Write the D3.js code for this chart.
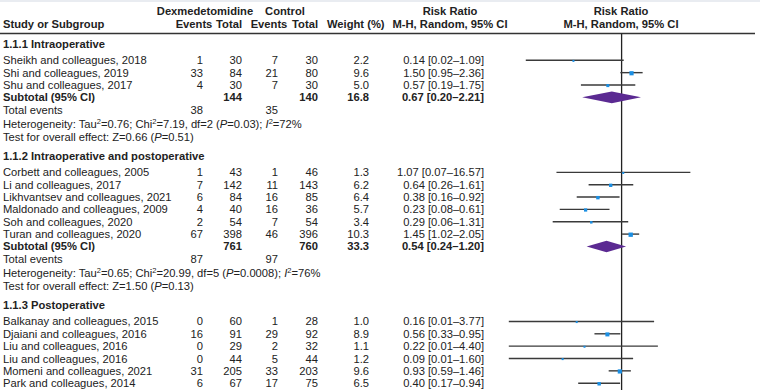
<!DOCTYPE html>
<html>
<head>
<meta charset="utf-8">
<style>
  body { margin: 0; background: #fff; }
  svg text { font-family: "Liberation Sans", Arial, sans-serif; font-size: 11.2px; fill: #222; }
  .b { font-weight: bold; }
</style>
<script src="https://cdn.jsdelivr.net/npm/d3@7"></script>
</head>
<body>
<script>
// ---- data ----
var groups = ["1.1.1 Intraoperative", "1.1.2 Intraoperative and postoperative", "1.1.3 Postoperative"];
var studies = ["Sheikh and colleagues, 2018", "Shi and colleagues, 2019", "Shu and colleagues, 2017",
  "Corbett and colleagues, 2005", "Li and colleagues, 2017", "Likhvantsev and colleagues, 2021",
  "Maldonado and colleagues, 2009", "Soh and colleagues, 2020", "Turan and colleagues, 2020",
  "Balkanay and colleagues, 2015", "Djaiani and colleagues, 2016", "Liu and colleagues, 2016",
  "Liu and colleagues, 2016", "Momeni and colleagues, 2021", "Park and colleagues, 2014",
  "Shehabi and colleagues, 2009"];
var studyGroup = [0, 0, 0, 1, 1, 1, 1, 1, 1, 2, 2, 2, 2, 2, 2, 2];
var dexEvents = [1, 33, 4, 1, 7, 6, 4, 2, 67, 0, 16, 0, 0, 31, 6, 13];
var dexTotal  = [30, 84, 30, 43, 142, 84, 40, 54, 398, 60, 91, 29, 44, 205, 67, 152];
var ctlEvents = [7, 21, 7, 1, 11, 16, 16, 7, 46, 1, 29, 2, 5, 33, 17, 22];
var ctlTotal  = [30, 80, 30, 46, 143, 85, 36, 54, 396, 28, 92, 32, 44, 203, 75, 147];
var weight    = [2.2, 9.6, 5.0, 1.3, 6.2, 6.4, 5.7, 3.4, 10.3, 1.0, 8.9, 1.1, 1.2, 9.6, 6.5, 7.5];
var rr        = [0.14, 1.50, 0.57, 1.07, 0.64, 0.38, 0.23, 0.29, 1.45, 0.16, 0.56, 0.22, 0.09, 0.93, 0.40, 0.57];
var rrLo      = [0.02, 0.95, 0.19, 0.07, 0.26, 0.16, 0.08, 0.06, 1.02, 0.01, 0.33, 0.01, 0.01, 0.59, 0.17, 0.30];
var rrHi      = [1.09, 2.36, 1.75, 16.57, 1.61, 0.92, 0.61, 1.31, 2.05, 3.77, 0.95, 4.40, 1.60, 1.46, 0.94, 1.09];

// subtotals (groups 1 and 2 only are visible)
var subDexTotal = [144, 761];
var subCtlTotal = [140, 760];
var subWeight   = [16.8, 33.3];
var subRR       = [0.67, 0.54];
var subLo       = [0.20, 0.24];
var subHi       = [2.21, 1.20];
var subDexEv    = [38, 87];
var subCtlEv    = [35, 97];
var hetTau = ["0.76", "0.65"];
var hetChi = ["7.19", "20.99"];
var hetDf  = [2, 5];
var hetP   = ["0.03", "0.0008"];
var hetI2  = [72, 76];
var testZ  = ["0.66", "1.50"];
var testP  = ["0.51", "0.13"];

// ---- layout ----
var W = 760, H = 390;
var svg = d3.select("body").append("svg").attr("width", W).attr("height", H);

svg.append("rect").attr("x", 0).attr("y", 0).attr("width", W).attr("height", 2).attr("fill", "#e9ecf1");

var x = d3.scaleLog().domain([0.01, 100]).range([508.8, 734.4]);
var f2 = d3.format(".2f"), f1 = d3.format(".1f");

var col = {name: 3, dexE: 203, dexT: 242, ctlE: 278, ctlT: 318, w: 369, rr: 484};

// build row list
var rows = [];
var y = 44.3;
groups.forEach(function(g, gi) {
  rows.push({type: "group", y: y, g: gi});
  y += 16;
  studies.forEach(function(s, i) {
    if (studyGroup[i] !== gi) return;
    rows.push({type: "study", y: y, i: i});
    y += 12.35;
  });
  if (gi < subRR.length) {
    rows.push({type: "sub", y: y, g: gi}); y += 13;
    rows.push({type: "tot", y: y, g: gi}); y += 14;
    rows.push({type: "het", y: y, g: gi}); y += 12.5;
    rows.push({type: "test", y: y, g: gi}); y += 19.5;
  }
});

function txt(xx, yy, s, anchor, cls) {
  return svg.append("text").attr("x", xx).attr("y", yy + 4)
    .attr("text-anchor", anchor || "start").attr("class", cls || null).text(s);
}

// header
txt(205, 10.7, "Dexmedetomidine", "middle", "b");
txt(285, 10.7, "Control", "middle", "b");
txt(450, 10.7, "Risk Ratio", "middle", "b");
txt(621, 10.7, "Risk Ratio", "middle", "b");
txt(3, 24.3, "Study or Subgroup", "start", "b");
txt(194, 24.3, "Events", "middle", "b");
txt(242, 24.3, "Total", "end", "b");
txt(269, 24.3, "Events", "middle", "b");
txt(318, 24.3, "Total", "end", "b");
txt(327, 24.3, "Weight (%)", "start", "b");
txt(450, 24.3, "M-H, Random, 95% CI", "middle", "b");
txt(621, 24.3, "M-H, Random, 95% CI", "middle", "b");

svg.append("line").attr("x1", 0).attr("x2", 755).attr("y1", 33.5).attr("y2", 33.5)
  .attr("stroke", "#333").attr("stroke-width", 1.3);
svg.append("line").attr("x1", x(1)).attr("x2", x(1)).attr("y1", 33.5).attr("y2", H)
  .attr("stroke", "#222").attr("stroke-width", 1.3);

function ci(a, b, c) { return f2(a) + " [" + f2(b) + "\u2013" + f2(c) + "]"; }

rows.forEach(function(r) {
  if (r.type === "group") {
    txt(col.name, r.y, groups[r.g], "start", "b");
  } else if (r.type === "study") {
    var i = r.i;
    txt(col.name, r.y, studies[i]);
    txt(col.dexE, r.y, dexEvents[i], "end");
    txt(col.dexT, r.y, dexTotal[i], "end");
    txt(col.ctlE, r.y, ctlEvents[i], "end");
    txt(col.ctlT, r.y, ctlTotal[i], "end");
    txt(col.w, r.y, f1(weight[i]), "end");
    txt(col.rr, r.y, ci(rr[i], rrLo[i], rrHi[i]), "end");
    svg.append("line").attr("x1", x(rrLo[i])).attr("x2", x(rrHi[i]))
      .attr("y1", r.y).attr("y2", r.y).attr("stroke", "#3a3a3a").attr("stroke-width", 1.4);
    var s = Math.max(2, Math.sqrt(weight[i]) * 1.35);
    svg.append("rect").attr("x", x(rr[i]) - s / 2).attr("y", r.y + 0.6 - s / 2)
      .attr("width", s).attr("height", s).attr("fill", "#1b8fe3");
  } else if (r.type === "sub") {
    var g = r.g;
    txt(col.name, r.y, "Subtotal (95% CI)", "start", "b");
    txt(col.dexT, r.y, subDexTotal[g], "end", "b");
    txt(col.ctlT, r.y, subCtlTotal[g], "end", "b");
    txt(col.w, r.y, f1(subWeight[g]), "end", "b");
    txt(col.rr, r.y, ci(subRR[g], subLo[g], subHi[g]), "end", "b");
    var pts = [[x(subLo[g]), r.y], [x(subRR[g]), r.y - 5.8], [x(subHi[g]), r.y], [x(subRR[g]), r.y + 5.8]];
    svg.append("path").attr("d", "M" + pts.join("L") + "Z").attr("fill", "#5b2a92");
  } else if (r.type === "tot") {
    txt(col.name, r.y, "Total events");
    txt(col.dexE, r.y, subDexEv[r.g], "end");
    txt(col.ctlE, r.y, subCtlEv[r.g], "end");
  } else if (r.type === "het") {
    var t = txt(col.name, r.y, null);
    t.append("tspan").text("Heterogeneity: Tau");
    t.append("tspan").attr("dy", -4).style("font-size", "7.5px").text("2");
    t.append("tspan").attr("dy", 4).text("=" + hetTau[r.g] + "; Chi");
    t.append("tspan").attr("dy", -4).style("font-size", "7.5px").text("2");
    t.append("tspan").attr("dy", 4).text("=" + hetChi[r.g] + ", df=" + hetDf[r.g] + " (");
    t.append("tspan").style("font-style", "italic").text("P");
    t.append("tspan").text("=" + hetP[r.g] + "); ");
    t.append("tspan").style("font-style", "italic").text("I");
    t.append("tspan").attr("dy", -4).style("font-size", "7.5px").text("2");
    t.append("tspan").attr("dy", 4).text("=" + hetI2[r.g] + "%");
  } else if (r.type === "test") {
    var t2 = txt(col.name, r.y, null);
    t2.append("tspan").text("Test for overall effect: Z=" + testZ[r.g] + " (");
    t2.append("tspan").style("font-style", "italic").text("P");
    t2.append("tspan").text("=" + testP[r.g] + ")");
  }
});
</script>
</body>
</html>
